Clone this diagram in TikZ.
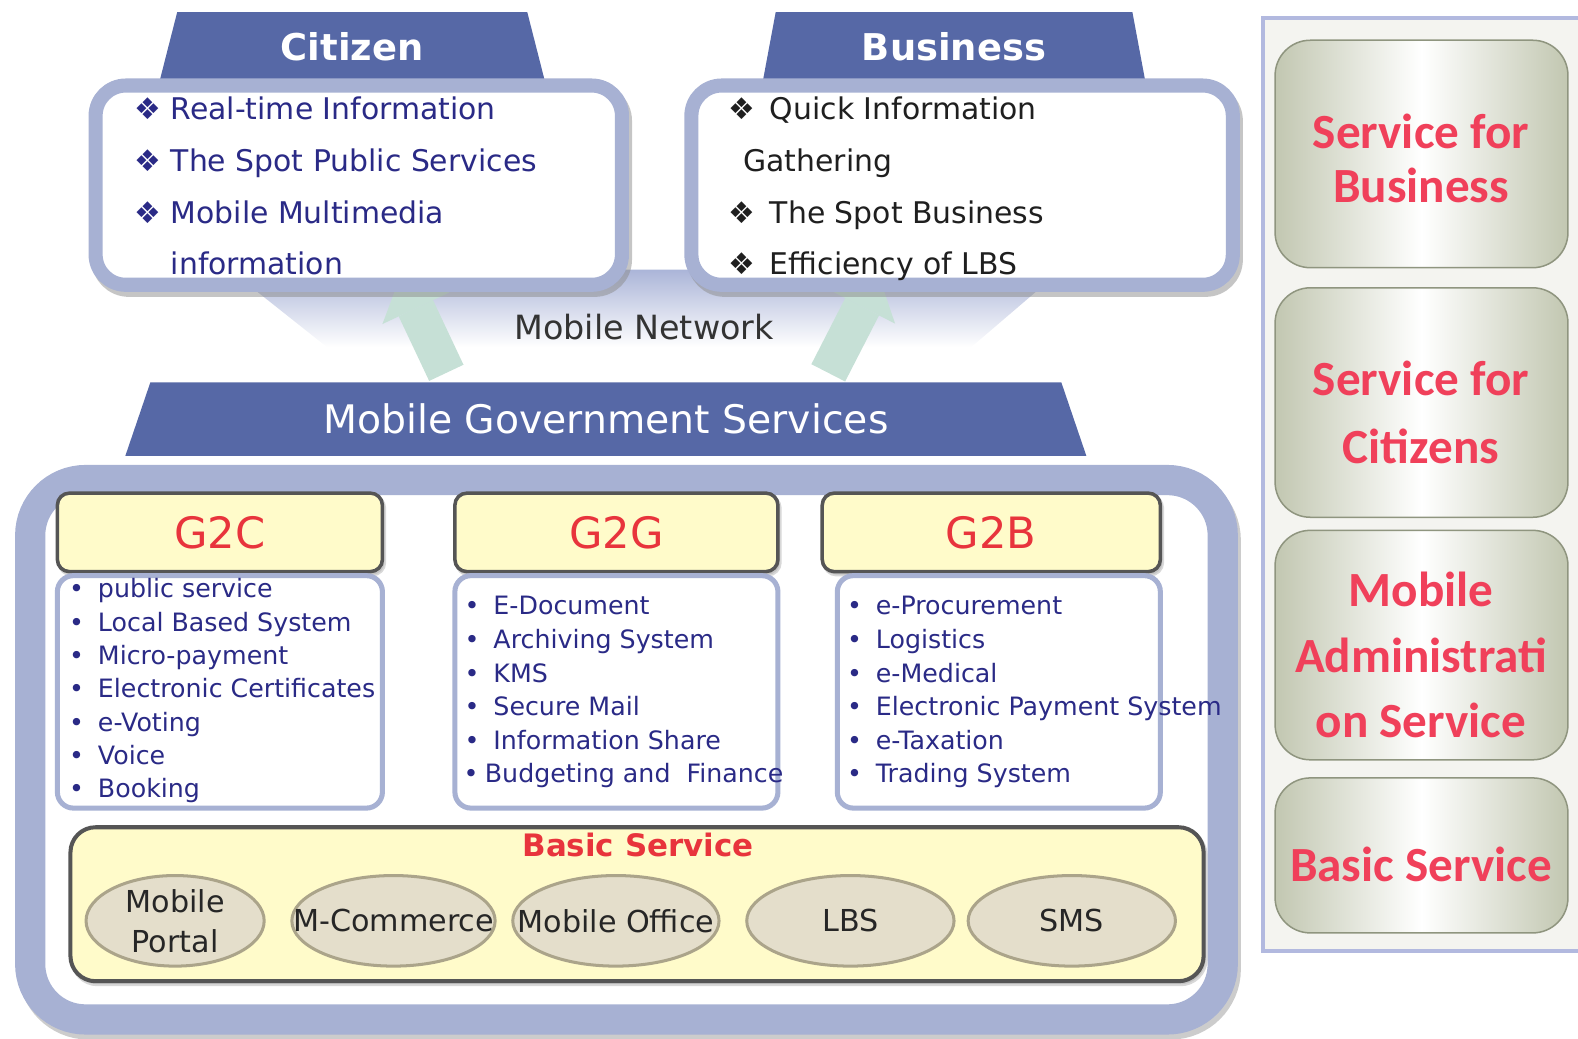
\documentclass[tikz,border=0pt]{standalone}
\usepackage{fontspec}
\setmainfont{DejaVu Sans}
\newfontfamily\panelfont{Carlito}
\usetikzlibrary{arrows.meta,shapes.geometric,shadows,fit,positioning}

\newlength{\pxunit}
\setlength{\pxunit}{0.010064cm}

\definecolor{trapblue}{HTML}{5668A6}
\definecolor{framegray}{HTML}{A7B1D3}
\definecolor{itemblue}{HTML}{2A2A86}
\definecolor{headyellow}{HTML}{FFFBCA}
\definecolor{headline}{HTML}{555555}
\definecolor{gred}{HTML}{E8343C}
\definecolor{ellfill}{HTML}{E4DECB}
\definecolor{elline}{HTML}{ABA48A}
\definecolor{mint}{HTML}{C6E0D6}
\definecolor{bandblue}{HTML}{ABB5D8}
\definecolor{panelbg}{HTML}{F4F4F0}
\definecolor{panelborder}{HTML}{B2B9DF}
\definecolor{panelgreen}{HTML}{C2C7B1}
\definecolor{panelline}{HTML}{8F957F}
\definecolor{panelred}{HTML}{F0405A}

\newcommand{\dia}{❖}
\newcommand{\gdot}{\textbullet\hskip0.55em}

\tikzset{
  trap/.style={trapezium, trapezium stretches=true, fill=trapblue, text=white, inner sep=0pt},
  topbox/.style={draw=framegray, line width=14\pxunit, fill=white, rounded corners=30\pxunit, inner sep=0pt,
    drop shadow={shadow xshift=3\pxunit, shadow yshift=-5\pxunit, fill=black!45, draw=black!45}},
  toplist/.style={anchor=base west, inner sep=0pt, font=\fontsize{8.5}{10}\selectfont},
  ghead/.style={draw=headline, line width=3.5\pxunit, fill=headyellow, rounded corners=12\pxunit, inner sep=0pt,
    drop shadow={shadow xshift=2\pxunit, shadow yshift=-3\pxunit, fill=black!30, draw=black!30}},
  gheadtext/.style={text=gred, inner sep=0pt, font=\fontsize{12.3}{14}\selectfont},
  glist/.style={draw=framegray, line width=5\pxunit, fill=white, rounded corners=16\pxunit, inner sep=0pt},
  gitem/.style={anchor=base west, inner sep=0pt, text=itemblue, font=\fontsize{7.2}{8.6}\selectfont},
  basicservice/.style={ellipse, draw=elline, line width=3\pxunit, fill=ellfill, inner sep=0pt},
  basictext/.style={align=center, inner sep=0pt, text=black!85, font=\fontsize{8.6}{11.4}\selectfont},
  panelbox/.style={draw=panelline, line width=1.5\pxunit, rounded corners=35\pxunit, inner sep=0pt,
    left color=panelgreen, right color=panelgreen, middle color=white},
  paneltext/.style={text=panelred, align=center, font=\panelfont\bfseries\fontsize{14}{15.2}\selectfont},
  netarrow/.style={draw=mint, line width=0.38cm,
    -{Triangle[width=0.74cm 0, length=0.36cm 0, line width=0pt 0, fill=mint]}},
}

\begin{document}
\begin{tikzpicture}[x=\pxunit, y=-\pxunit]
\useasboundingbox (0,0) rectangle (1568,1032);

% Mobile network band
\shade[top color=bandblue, bottom color=white]
  (228,268) -- (1055,268) -- (965,345) -- (325,345) -- cycle;

% Arrows from the services to the users
\coordinate (lnet-from) at (443.5,370.5);
\coordinate (lnet-to) at (398,274);
\coordinate (rnet-from) at (823,370.5);
\coordinate (rnet-to) at (873,273);
\draw[netarrow] (lnet-from) -- (lnet-to);
\draw[netarrow] (rnet-from) -- (rnet-to);

\node[text=black!80, font=\fontsize{9.5}{11}\selectfont] (network) at (640,325) {Mobile Network};

% Citizen and Business
\node[trap, minimum width=384\pxunit, minimum height=68\pxunit, trapezium angle=76,
  font=\bfseries\fontsize{10.5}{12}\selectfont] (citizen) at (350,46) {Citizen};
\node[trap, minimum width=380\pxunit, minimum height=68\pxunit, trapezium angle=77,
  font=\bfseries\fontsize{10.5}{12}\selectfont] (business) at (948,46) {Business};

\node[topbox, fit={(95,85) (618,283)}] (citizenbox) {};
\node[topbox, fit={(687,85) (1225,283)}] (businessbox) {};

\foreach \txt [count=\i from 0] in {Real-time Information, The Spot Public Services, Mobile Multimedia}
  \node[toplist, text=itemblue] (citizen-\i) at (133,119+51.3*\i) {\dia\ \txt};
\node[toplist, text=itemblue] (citizen-3) at (133,273) {\phantom{\dia\ }information};

\node[toplist, text=black!88] (business-0) at (723,119) {\dia\hskip0.5em Quick Information};
\node[toplist, text=black!88] (business-1) at (738,170.3) {Gathering};
\node[toplist, text=black!88] (business-2) at (723,221.6) {\dia\hskip0.5em The Spot Business};
\node[toplist, text=black!88] (business-3) at (723,273) {\dia\hskip0.5em Efficiency of LBS};

% Mobile Government Services
\node[trap, minimum width=955\pxunit, minimum height=73\pxunit, trapezium angle=63,
  font=\fontsize{11.2}{13}\selectfont] (mgs) at (602,416.5) {Mobile Government Services};

\node[draw=framegray, line width=30\pxunit, rounded corners=55\pxunit, fill=white, inner sep=0pt,
  fit={(30,477) (1215,1013)},
  drop shadow={shadow xshift=3\pxunit, shadow yshift=-5\pxunit, fill=black!40, draw=black!40}] (mgframe) {};

% G2C, G2G, G2B
\node[ghead, fit={(57,490) (380,568)}, label={[gheadtext]center:G2C}] (g2c) {};
\node[ghead, fit={(452,490) (773,568)}, label={[gheadtext]center:G2G}] (g2g) {};
\node[ghead, fit={(817,490) (1153,568)}, label={[gheadtext]center:G2B}] (g2b) {};

\node[glist, fit={(57,572) (380,803)}] (g2c-list) {};
\node[glist, fit={(452,572) (773,803)}] (g2g-list) {};
\node[glist, fit={(832,572) (1153,803)}] (g2b-list) {};

\foreach \txt [count=\i from 0] in {public service, Local Based System, Micro-payment,
    Electronic Certificates, e-Voting, Voice, Booking}
  \node[gitem] (g2c-\i) at (68,594+33.15*\i) {\gdot\txt};

\foreach \txt [count=\i from 0] in {E-Document, Archiving System, KMS, Secure Mail, Information Share}
  \node[gitem] (g2g-\i) at (461,611+33.4*\i) {\gdot\txt};
\node[gitem] (g2g-5) at (460,778) {\textbullet\hskip0.25em Budgeting and\ \ Finance};

\foreach \txt [count=\i from 0] in {e-Procurement, Logistics, e-Medical,
    Electronic Payment System, e-Taxation, Trading System}
  \node[gitem] (g2b-\i) at (841,611+33.4*\i) {\gdot\txt};

% Basic service
\node[draw=headline, line width=4\pxunit, fill=headyellow, rounded corners=25\pxunit, inner sep=0pt,
  fit={(70,822) (1196,975)},
  drop shadow={shadow xshift=2\pxunit, shadow yshift=-3\pxunit, fill=black!30, draw=black!30}] (basic) {};
\node[text=gred, font=\bfseries\fontsize{8.8}{10}\selectfont] (basic-title) at (634,840) {Basic Service};

\node[basicservice, minimum width=177\pxunit, minimum height=90\pxunit,
  label={[basictext]center:Mobile\\Portal}] (portal) at (174,915) {};
\node[basicservice, minimum width=202\pxunit, minimum height=90\pxunit,
  label={[basictext]center:M-Commerce}] (commerce) at (391,915) {};
\node[basicservice, minimum width=205\pxunit, minimum height=90\pxunit,
  label={[basictext]center:Mobile Office}] (office) at (612,915) {};
\node[basicservice, minimum width=206\pxunit, minimum height=90\pxunit,
  label={[basictext]center:LBS}] (lbs) at (845,915) {};
\node[basicservice, minimum width=206\pxunit, minimum height=90\pxunit,
  label={[basictext]center:SMS}] (sms) at (1065,915) {};

% Service levels
\node[draw=panelborder, line width=4\pxunit, fill=panelbg, inner sep=0pt, fit={(1255,18) (1585,945)}] (panel) {};

\node[panelbox, fit={(1267,40) (1558,266)}] (level-1) {};
\node[panelbox, fit={(1267,286) (1558,514)}] (level-2) {};
\node[panelbox, fit={(1267,527) (1558,755)}] (level-3) {};
\node[panelbox, fit={(1267,773) (1558,927)}] (level-4) {};

\node[paneltext] (level-1-text) at (1412,157.5) {Service for\\Business};
\node[paneltext] (level-2-text) at (1412,410) {Service for\\[4.3pt]Citizens};
\node[paneltext] (level-3-text) at (1412,651) {Mobile\\[3.4pt]Administrati\\[3.4pt]on Service};
\node[paneltext] (level-4-text) at (1412,859) {Basic Service};

\end{tikzpicture}
\end{document}
